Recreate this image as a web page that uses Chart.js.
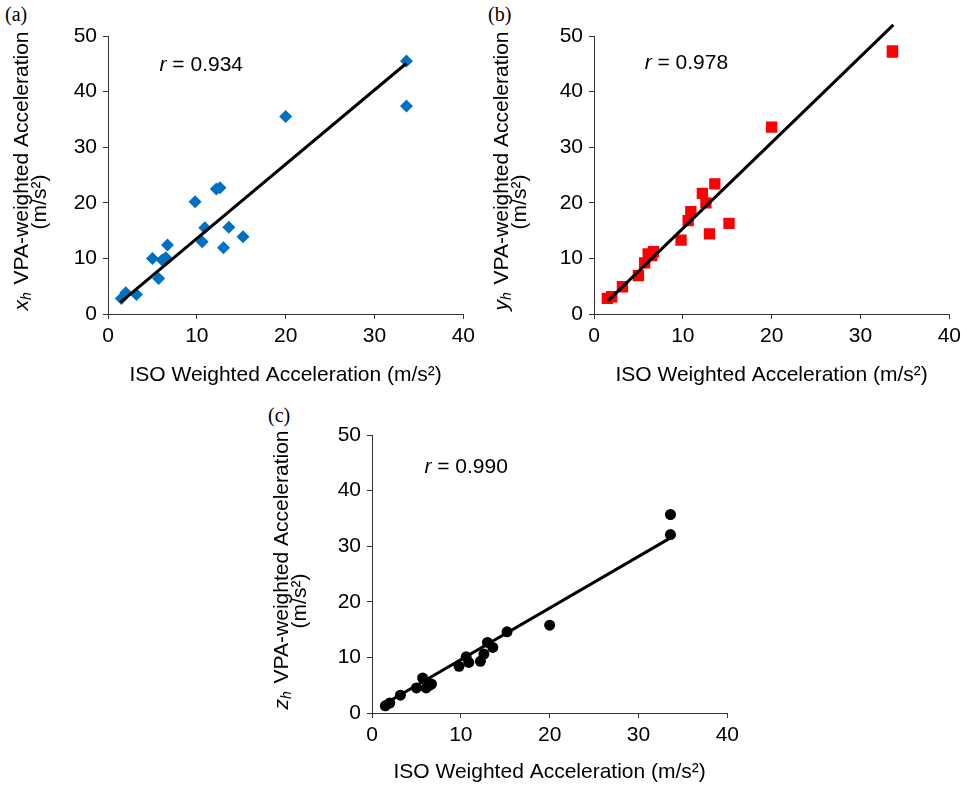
<!DOCTYPE html>
<html>
<head>
<meta charset="utf-8">
<script src="https://cdn.jsdelivr.net/npm/chart.js@4.4.1/dist/chart.umd.min.js"></script>
<style>
  html, body { margin: 0; padding: 0; background: #fff; }
  body { width: 967px; height: 785px; position: relative; overflow: hidden; }
  canvas { position: absolute; }
  .tag { position: absolute; font: 20px "Liberation Serif", serif; color: #000; line-height: 1; }
</style>
</head>
<body>
<div class="tag" style="left:5px;top:4px">(a)</div>
<div class="tag" style="left:488px;top:4px">(b)</div>
<div class="tag" style="left:268px;top:405px">(c)</div>
<canvas id="chart-a" width="480" height="395" style="left:0;top:0"></canvas>
<canvas id="chart-b" width="480" height="395" style="left:486px;top:0"></canvas>
<canvas id="chart-c" width="480" height="386" style="left:264px;top:399px"></canvas>
<script>
// ISO weighted acceleration (same subjects in the three panels)
const isoX = [1.5, 2.0, 3.2, 5.0, 5.7, 6.1, 6.5, 6.7, 9.8, 10.6, 10.9, 12.2, 12.6, 13.0, 13.6, 15.2, 20.0, 33.6, 33.6];
// VPA-weighted acceleration per axis
const vpaXh = [2.8, 3.8, 3.5, 10.0, 6.4, 9.7, 10.1, 12.4, 20.2, 13.0, 15.5, 22.5, 22.7, 11.9, 15.6, 13.9, 35.5, 45.5, 37.4];
const vpaYh = [2.8, 3.1, 4.9, 6.9, 9.2, 10.8, 10.5, 11.2, 13.3, 16.8, 18.4, 21.7, 20.0, 14.4, 23.4, 16.3, 33.6, 47.3, 47.1];
const vpaZh = [1.3, 1.8, 3.2, 4.5, 6.3, 4.5, 5.0, 5.2, 8.4, 10.1, 9.1, 9.3, 10.6, 12.7, 11.8, 14.6, 15.8, 35.7, 32.1];
// fitted lines (end points)
const fitXhX = [1.4, 33.6], fitXhY = [2.1, 45.1];
const fitYhX = [1.6, 33.7], fitYhY = [2.4, 52.0];
const fitZhX = [1.6, 33.6], fitZhY = [1.8, 31.5];
const rValues = ['0.934', '0.978', '0.990'];
const xTicks = [0, 10, 20, 30, 40];
const yTicks = [0, 10, 20, 30, 40, 50];

const FONT = '"Liberation Sans", Arial, sans-serif';
const FS = 21;
const AXIS = '#333';

// r = ... annotation
const rLabel = {
  id: 'rLabel',
  afterDatasetsDraw(chart, args, o) {
    const { ctx } = chart;
    const x = chart.scales.x.getPixelForValue(o.x);
    const y = chart.scales.y.getPixelForValue(o.y);
    ctx.save();
    ctx.fillStyle = '#000';
    ctx.textBaseline = 'middle';
    ctx.font = 'italic ' + FS + 'px ' + FONT;
    ctx.fillText('r', x, y);
    const w = ctx.measureText('r').width;
    ctx.font = FS + 'px ' + FONT;
    ctx.fillText(' = ' + o.text, x + w, y);
    ctx.restore();
  }
};

// two-line y title with italic subscripted symbol
const yTitle = {
  id: 'yTitle',
  afterDraw(chart, args, o) {
    const { ctx, chartArea } = chart;
    const cy = (chartArea.top + chartArea.bottom) / 2;
    const rest = ' VPA-weighted Acceleration';
    ctx.save();
    ctx.fillStyle = '#000';
    ctx.textBaseline = 'middle';
    ctx.translate(chartArea.left - o.off1, cy + o.shift1);
    ctx.rotate(-Math.PI / 2);
    ctx.font = 'italic ' + FS + 'px ' + FONT;
    const w1 = ctx.measureText(o.sym).width;
    ctx.font = 'italic 14px ' + FONT;
    const w2 = ctx.measureText('h').width + 2;
    ctx.font = FS + 'px ' + FONT;
    const w3 = ctx.measureText(rest).width;
    let x = -(w1 + w2 + w3) / 2;
    ctx.font = 'italic ' + FS + 'px ' + FONT;
    ctx.fillText(o.sym, x, 0);
    x += w1;
    ctx.font = 'italic 14px ' + FONT;
    ctx.fillText('h', x, 5);
    x += w2;
    ctx.font = FS + 'px ' + FONT;
    ctx.fillText(rest, x, 0);
    ctx.restore();

    ctx.save();
    ctx.fillStyle = '#000';
    ctx.textBaseline = 'middle';
    ctx.textAlign = 'center';
    ctx.translate(chartArea.left - o.off2, cy + o.shift2);
    ctx.rotate(-Math.PI / 2);
    ctx.font = FS + 'px ' + FONT;
    ctx.fillText('(m/s²)', 0, 0);
    ctx.restore();
  }
};

function pts(xs, ys) {
  return xs.map((x, i) => ({ x, y: ys[i] }));
}

function makeChart(id, cfg) {
  return new Chart(document.getElementById(id), {
    type: 'scatter',
    data: {
      datasets: [
        {
          type: 'line',
          data: pts(cfg.fitX, cfg.fitY),
          borderColor: '#000',
          borderWidth: 3,
          pointRadius: 0,
          fill: false,
          clip: false,
        },
        {
          data: pts(isoX, cfg.values),
          pointStyle: cfg.marker,
          pointRadius: cfg.radius,
          pointBackgroundColor: cfg.color,
          pointBorderWidth: 0,
          showLine: false,
        },
      ],
    },
    options: {
      responsive: false,
      animation: false,
      layout: { padding: { top: 36, right: cfg.padRight, left: 0, bottom: 0 } },
      plugins: {
        legend: { display: false },
        tooltip: { enabled: false },
        rLabel: { x: cfg.rAt[0], y: cfg.rAt[1], text: cfg.r },
        yTitle: { sym: cfg.sym, off1: cfg.off1, off2: cfg.off2, shift1: -4, shift2: 27 },
      },
      scales: {
        x: {
          type: 'linear',
          min: xTicks[0], max: xTicks[xTicks.length - 1],
          ticks: { stepSize: 10, color: '#000', padding: 5, font: { family: FONT, size: FS } },
          grid: { drawOnChartArea: false, drawTicks: true, tickLength: 5, color: AXIS },
          border: { color: AXIS, width: 1 },
          title: {
            display: true, text: 'ISO Weighted Acceleration (m/s²)', color: '#000',
            font: { family: FONT, size: FS }, padding: { top: 0, bottom: cfg.titlePad },
          },
          afterFit: s => { s.height = cfg.xHeight; },
        },
        y: {
          type: 'linear',
          min: yTicks[0], max: yTicks[yTicks.length - 1],
          ticks: { stepSize: 10, color: '#000', padding: 6, font: { family: FONT, size: FS } },
          grid: { drawOnChartArea: false, drawTicks: true, tickLength: 5, color: AXIS },
          border: { color: AXIS, width: 1 },
          afterFit: s => { s.width = 108; },
        },
      },
    },
    plugins: [rLabel, yTitle],
  });
}

makeChart('chart-a', {
  values: vpaXh, fitX: fitXhX, fitY: fitXhY, marker: 'rectRot', radius: 6.5, color: '#0070C0',
  r: rValues[0], rAt: [5.8, 44.8], sym: 'x', off1: 86, off2: 68,
  padRight: 15, xHeight: 81, titlePad: 7,
});
makeChart('chart-b', {
  values: vpaYh, fitX: fitYhX, fitY: fitYhY, marker: 'rect', radius: 8, color: '#FF0000',
  r: rValues[1], rAt: [5.7, 45.1], sym: 'y', off1: 92, off2: 74,
  padRight: 14, xHeight: 81, titlePad: 7,
});
makeChart('chart-c', {
  values: vpaZh, fitX: fitZhX, fitY: fitZhY, marker: 'circle', radius: 5.5, color: '#000',
  r: rValues[2], rAt: [5.9, 44.2], sym: 'z', off1: 90, off2: 72,
  padRight: 14, xHeight: 72, titlePad: 0,
});
</script>
</body>
</html>
